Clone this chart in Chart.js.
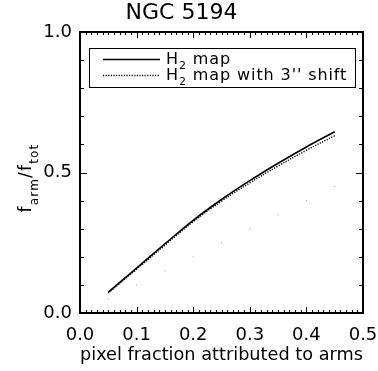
<!DOCTYPE html>
<html>
<head>
<meta charset="utf-8">
<script src="https://cdn.jsdelivr.net/npm/chart.js@4/dist/chart.umd.min.js"></script>
<style>
  html, body { margin: 0; padding: 0; background: #fff; }
  #wrap { width: 378px; height: 371px; }
</style>
</head>
<body>
<div id="wrap"><canvas id="fracChart" width="378" height="371"></canvas></div>
<script>
// ========== DATA ==========
const pixelFraction = [0.05, 0.10, 0.15, 0.20, 0.25, 0.30, 0.35, 0.40, 0.45];
const h2Map         = [0.074, 0.160, 0.246, 0.330, 0.404, 0.471, 0.533, 0.591, 0.645];
const h2MapShift    = [0.071, 0.156, 0.241, 0.325, 0.398, 0.463, 0.523, 0.579, 0.631];
const oneToOne      = [0.05, 0.10, 0.15, 0.20, 0.25, 0.30, 0.35, 0.40, 0.45];

const xTicks = [0.0, 0.1, 0.2, 0.3, 0.4, 0.5];
const yTicks = [0.0, 0.5, 1.0];

// legend text pieces: [main, subscript, rest]
const legendLabels = [
    ['H', '2', ' map'],
    ['H', '2', ' map with 3\'\' shift']
];
// ==========================

const FONT = '"DejaVu Sans", sans-serif';

function toPoints(xs, ys) {
    return xs.map((x, i) => ({ x: x, y: ys[i] }));
}

// box frame with inward ticks on all four sides (IDL style)
const frameTicks = {
    id: 'frameTicks',
    afterDatasetsDraw(chart) {
        const { ctx, chartArea: a, scales: { x, y } } = chart;
        ctx.save();
        ctx.strokeStyle = '#000';
        ctx.lineWidth = 1;
        ctx.beginPath();
        for (let i = 0; i <= 50; i++) {
            const px = Math.round(x.getPixelForValue(i / 100)) + 0.5;
            const len = i % 10 === 0 ? 6 : 3;
            ctx.moveTo(px, a.bottom); ctx.lineTo(px, a.bottom - len);
            ctx.moveTo(px, a.top); ctx.lineTo(px, a.top + len);
        }
        for (let i = 0; i <= 10; i++) {
            const py = Math.round(y.getPixelForValue(i / 10)) + 0.5;
            const len = i % 5 === 0 ? 7 : 4;
            ctx.moveTo(a.left, py); ctx.lineTo(a.left + len, py);
            ctx.moveTo(a.right, py); ctx.lineTo(a.right - len, py);
        }
        ctx.stroke();
        ctx.lineWidth = 2;
        ctx.strokeRect(a.left, a.top, a.right - a.left, a.bottom - a.top);
        ctx.restore();
    }
};

// legend box with subscripted labels
const boxLegend = {
    id: 'boxLegend',
    afterDraw(chart) {
        const ctx = chart.ctx;
        ctx.save();
        ctx.strokeStyle = '#000';
        ctx.lineWidth = 1;
        ctx.strokeRect(89.5, 48.5, 266, 39);
        legendLabels.forEach((parts, i) => {
            const ds = chart.data.datasets[i];
            const ly = 59.5 + i * 16;
            ctx.beginPath();
            ctx.lineWidth = ds.borderWidth;
            ctx.strokeStyle = ds.borderColor;
            ctx.setLineDash(ds.borderDash || []);
            ctx.moveTo(103, ly);
            ctx.lineTo(160, ly);
            ctx.stroke();
            ctx.setLineDash([]);

            const base = 63.5 + i * 16;
            ctx.fillStyle = '#000';
            ctx.textBaseline = 'alphabetic';
            ctx.textAlign = 'left';
            ctx.letterSpacing = '0.9px';
            let tx = 166;
            ctx.font = '16px ' + FONT;
            ctx.fillText(parts[0], tx, base);
            tx += ctx.measureText(parts[0]).width;
            ctx.font = '11px ' + FONT;
            ctx.fillText(parts[1], tx, base + 5);
            tx += ctx.measureText(parts[1]).width;
            ctx.font = '16px ' + FONT;
            ctx.fillText(parts[2], tx, base);
        });
        ctx.restore();
    }
};

// rotated y title f_arm / f_tot
const yTitle = {
    id: 'yTitle',
    afterDraw(chart) {
        const ctx = chart.ctx;
        const pieces = [
            ['f', false], ['arm', true], ['/', false], ['f', false], ['tot', true]
        ];
        ctx.save();
        ctx.fillStyle = '#000';
        ctx.textBaseline = 'alphabetic';
        ctx.textAlign = 'left';
        ctx.letterSpacing = '1.2px';
        let total = 0;
        pieces.forEach(p => {
            ctx.font = (p[1] ? '12px ' : '17px ') + FONT;
            total += ctx.measureText(p[0]).width;
        });
        ctx.translate(31, 178);
        ctx.rotate(-Math.PI / 2);
        let u = -total / 2;
        pieces.forEach(p => {
            ctx.font = (p[1] ? '12px ' : '17px ') + FONT;
            ctx.fillText(p[0], u, p[1] ? 7 : 0);
            u += ctx.measureText(p[0]).width;
        });
        ctx.restore();
    }
};

const ctx = document.getElementById('fracChart').getContext('2d');
new Chart(ctx, {
    type: 'scatter',
    data: {
        datasets: [{
            label: 'H2 map',
            data: toPoints(pixelFraction, h2Map),
            showLine: true,
            borderColor: '#000',
            borderWidth: 1.6,
            pointRadius: 0,
            tension: 0.4
        }, {
            label: 'H2 map with 3" shift',
            data: toPoints(pixelFraction, h2MapShift),
            showLine: true,
            borderColor: '#000',
            borderWidth: 1.4,
            borderDash: [1.2, 1.4],
            pointRadius: 0,
            tension: 0.4
        }, {
            label: 'one-to-one',
            data: toPoints(pixelFraction, oneToOne),
            showLine: false,
            pointStyle: 'rect',
            pointRadius: 0.7,
            borderWidth: 0,
            backgroundColor: '#9a9a9a'
        }]
    },
    options: {
        responsive: false,
        animation: false,
        layout: { autoPadding: false, padding: { top: 0, right: 15, left: 0, bottom: 0 } },
        plugins: {
            legend: { display: false },
            tooltip: { enabled: false },
            title: {
                display: true,
                text: 'NGC 5194',
                color: '#000',
                font: { family: FONT, size: 22, weight: 'normal', lineHeight: 1.2 },
                padding: { top: 0, bottom: 5.6 }
            }
        },
        scales: {
            x: {
                type: 'linear',
                min: 0,
                max: 0.5,
                afterBuildTicks: scale => { scale.ticks = xTicks.map(v => ({ value: v })); },
                afterFit: scale => {
                    scale.height = 58;
                    scale.paddingLeft = 0;
                    scale.paddingRight = 15;
                },
                ticks: {
                    color: '#000',
                    font: { family: FONT, size: 18 },
                    padding: 12,
                    maxRotation: 0,
                    callback: v => v.toFixed(1)
                },
                grid: { display: false, drawTicks: false },
                border: { display: false },
                title: {
                    display: true,
                    text: 'pixel fraction attributed to arms',
                    color: '#000',
                    font: { family: FONT, size: 18 },
                    padding: { top: 0, bottom: 5 }
                }
            },
            y: {
                type: 'linear',
                min: 0,
                max: 1,
                afterBuildTicks: scale => { scale.ticks = yTicks.map(v => ({ value: v })); },
                afterFit: scale => { scale.width = 80; },
                ticks: {
                    color: '#000',
                    font: { family: FONT, size: 18 },
                    padding: 8,
                    callback: v => v.toFixed(1)
                },
                grid: { display: false, drawTicks: false },
                border: { display: false }
            }
        }
    },
    plugins: [frameTicks, boxLegend, yTitle]
});
</script>
</body>
</html>
